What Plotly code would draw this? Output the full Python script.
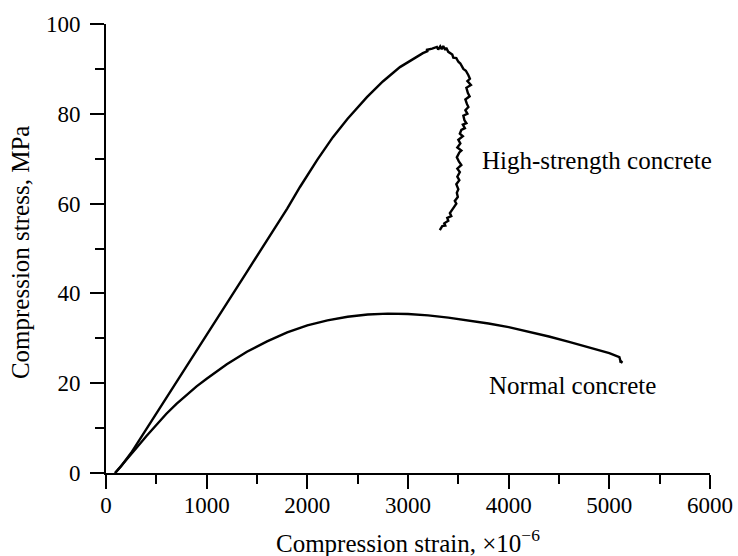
import plotly.graph_objects as go

# High-strength concrete (strain x1e-6, stress MPa)
hsc_strain = [90, 150, 250, 400, 600, 800, 1000, 1200, 1400, 1600, 1800, 1927, 2100, 2254,
              2400, 2592, 2750, 2920, 3050, 3148, 3200, 3180, 3240, 3287, 3300, 3320, 3335,
              3350, 3370, 3380, 3400, 3416, 3440, 3450, 3480, 3500, 3520, 3550, 3575, 3600,
              3615, 3590, 3625, 3580, 3595, 3612, 3570, 3585, 3600, 3570, 3590, 3550, 3560,
              3580, 3545, 3565, 3530, 3515, 3545, 3500, 3520, 3490, 3530, 3510, 3485, 3505,
              3530, 3490, 3515, 3490, 3510, 3480, 3500, 3485, 3495, 3465, 3480, 3450, 3430,
              3416, 3430, 3390, 3400, 3360, 3370, 3340, 3316]
hsc_stress = [0, 1.5, 4.5, 9.8, 16.8, 23.8, 30.8, 37.8, 44.8, 51.8, 58.9, 63.7, 69.8, 74.8,
              78.9, 83.7, 87.2, 90.4, 92.2, 93.5, 94.0, 94.2, 94.5, 94.9, 94.3, 95.0, 94.4,
              95.1, 94.2, 94.7, 93.8, 93.5, 93.2, 92.5, 92.4, 91.6, 91.2, 90.0, 89.6, 88.6,
              87.8, 87.3, 86.4, 85.8, 84.6, 83.9, 83.2, 82.2, 81.5, 80.8, 80.0, 79.6, 78.6,
              77.9, 77.6, 76.8, 76.4, 75.6, 75.0, 74.2, 73.4, 72.5, 71.8, 71.4, 70.3, 69.4,
              68.6, 67.8, 67.0, 66.0, 65.2, 64.3, 63.2, 62.4, 61.5, 60.6, 60.0, 59.0, 58.4,
              57.9, 57.2, 56.8, 56.2, 55.6, 55.1, 55.0, 54.1]

# Normal concrete
nc_strain = [90, 200, 300, 400, 500, 600, 700, 800, 900, 1000, 1200, 1400, 1600, 1800, 2000,
             2200, 2400, 2600, 2800, 3000, 3200, 3400, 3600, 3800, 4000, 4200, 4400, 4600,
             4800, 5000, 5100, 5110, 5130, 5100]
nc_stress = [0, 2.8, 5.5, 8.2, 10.8, 13.2, 15.4, 17.4, 19.3, 21.0, 24.2, 27.0, 29.3, 31.3, 32.9,
             34.0, 34.8, 35.3, 35.5, 35.4, 35.1, 34.6, 34.0, 33.3, 32.5, 31.5, 30.4, 29.2,
             28.0, 26.7, 25.8, 25.0, 24.6, 24.9]

x_ticks = [0, 1000, 2000, 3000, 4000, 5000, 6000]
y_ticks = [0, 20, 40, 60, 80, 100]

FONT = "Liberation Serif"

fig = go.Figure()
fig.add_trace(go.Scatter(x=hsc_strain, y=hsc_stress, mode="lines",
                         line=dict(color="black", width=2.4), name="High-strength concrete"))
fig.add_trace(go.Scatter(x=nc_strain, y=nc_stress, mode="lines",
                         line=dict(color="black", width=2.4), name="Normal concrete"))

fig.update_layout(
    width=738, height=556,
    margin=dict(l=106, r=28, t=24, b=83),
    paper_bgcolor="white", plot_bgcolor="white",
    showlegend=False,
    font=dict(family=FONT, color="black", size=25),
    annotations=[
        dict(text="High-strength concrete", x=3714, y=69.7, xref="x", yref="y",
             xanchor="left", yanchor="middle", showarrow=False, font=dict(size=25)),
        dict(text="Normal concrete", x=3784, y=19.6, xref="x", yref="y",
             xanchor="left", yanchor="middle", showarrow=False, font=dict(size=25)),
        dict(text="Compression strain, ×10<sup>−6</sup>", x=0.5, y=-0.152, xref="paper", yref="paper",
             xanchor="center", yanchor="middle", showarrow=False, font=dict(size=25)),
        dict(text="Compression stress, MPa", x=-0.1424, y=0.492, xref="paper", yref="paper",
             xanchor="center", yanchor="middle", textangle=-90, showarrow=False, font=dict(size=25)),
    ],
)
fig.update_xaxes(range=[0, 6000], tickvals=x_ticks, ticktext=[str(v) for v in x_ticks],
                 automargin=False,
                 showgrid=False, zeroline=False, showline=True, linewidth=2, linecolor="black",
                 ticks="outside", ticklen=14, tickwidth=2, tickcolor="black",
                 tickfont=dict(size=23, family=FONT), ticklabelstandoff=-4,
                 minor=dict(tickvals=[500, 1500, 2500, 3500, 4500, 5500], ticks="outside",
                            ticklen=9, tickwidth=2, tickcolor="black", showgrid=False))
fig.update_yaxes(range=[0, 100], tickvals=y_ticks, ticktext=[str(v) for v in y_ticks],
                 automargin=False,
                 showgrid=False, zeroline=False, showline=True, linewidth=2, linecolor="black",
                 ticks="outside", ticklen=14, tickwidth=2, tickcolor="black",
                 tickfont=dict(size=23, family=FONT), ticklabelstandoff=5,
                 minor=dict(tickvals=[10, 30, 50, 70, 90], ticks="outside",
                            ticklen=9, tickwidth=2, tickcolor="black", showgrid=False))

fig.write_html("out.html", config={"displayModeBar": False},
               post_script="document.body.style.margin='0px';document.body.style.overflow='hidden';")
